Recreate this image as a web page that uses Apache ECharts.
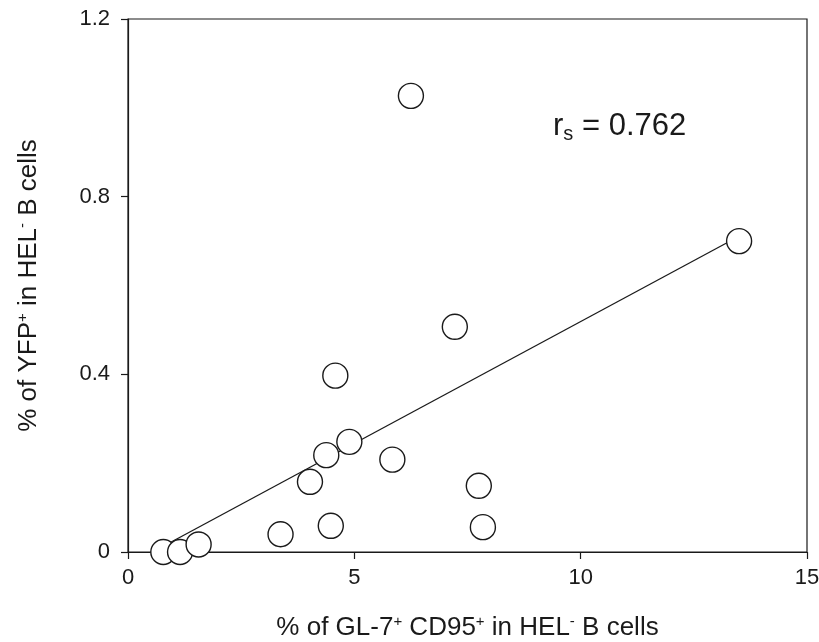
<!DOCTYPE html>
<html>
<head>
    <meta charset="utf-8">
    <title>YFP vs GL-7 CD95</title>
    <script src="https://cdn.jsdelivr.net/npm/echarts@6/dist/echarts.min.js"></script>
</head>
<body style="margin:0">
    <div id="main" style="width: 819px;height:642px;"></div>
    <script type="text/javascript">
    // % GL-7+ CD95+ (x) and % YFP+ (y)
    var gl7 = [0.78, 1.15, 1.56, 3.37, 4.48, 4.02, 4.38, 4.89, 5.84, 7.75, 7.84, 4.58, 7.22, 13.5, 6.25];
    var yfp = [0.0, 0.0, 0.017, 0.040, 0.059, 0.158, 0.218, 0.248, 0.208, 0.149, 0.056, 0.397, 0.507, 0.700, 1.027];
    // regression line end points
    var fitX = [0.78, 13.5];
    var fitY = [0.013, 0.711];
    var xTicks = [0, 5, 10, 15];
    var yTicks = [0, 0.4, 0.8, 1.2];

    var myChart = echarts.init(document.getElementById('main'));

    var points = gl7.map(function (x, i) { return [x, yfp[i]]; });
    var fit = fitX.map(function (x, i) { return [x, fitY[i]]; });

    var font = 'Liberation Sans, Arial, sans-serif';
    var ink = '#1a1a1a';
    var supStyle = { fontSize: 15, verticalAlign: 'top', padding: [0, 0, 12, 0], fontFamily: font, color: ink };

    option = {
        animation: false,
        backgroundColor: '#fff',
        title: {
            left: 548,
            top: 104,
            text: 'r{sub|s} = 0.762',
            textStyle: {
                fontSize: 31,
                fontWeight: 'normal',
                fontFamily: font,
                color: ink,
                rich: {
                    sub: { fontSize: 20, fontFamily: font, color: ink, padding: [15, 0, 0, 0] }
                }
            }
        },
        grid: {
            left: 128, right: 12, top: 19, bottom: 90,
            outerBoundsMode: 'none',
            containLabel: false,
            show: true,
            borderColor: ink,
            borderWidth: 1.2
        },
        xAxis: {
            type: 'value',
            min: xTicks[0],
            max: xTicks[xTicks.length - 1],
            interval: 5,
            splitLine: { show: false },
            axisLine: { lineStyle: { color: ink, width: 1.2 } },
            axisTick: { length: 7, lineStyle: { color: ink, width: 1.2 } },
            axisLabel: { fontSize: 22, fontFamily: font, color: ink, margin: 15 },
            name: '% of GL-7{sup|+} CD95{sup|+} in HEL{sup|-} B cells',
            nameLocation: 'middle',
            nameGap: 62,
            nameTextStyle: { fontSize: 26, fontFamily: font, color: ink, rich: { sup: supStyle } }
        },
        yAxis: {
            type: 'value',
            min: yTicks[0],
            max: yTicks[yTicks.length - 1],
            interval: 0.4,
            splitLine: { show: false },
            axisLine: { lineStyle: { color: ink, width: 1.2 } },
            axisTick: { length: 7, lineStyle: { color: ink, width: 1.2 } },
            axisLabel: { fontSize: 22, fontFamily: font, color: ink, margin: 18 },
            name: '% of YFP{sup|+} in HEL{sup|-} B cells',
            nameLocation: 'middle',
            nameGap: 86,
            nameTextStyle: { fontSize: 26, fontFamily: font, color: ink, rich: { sup: supStyle } }
        },
        series: [{
            type: 'line',
            data: fit,
            symbol: 'none',
            lineStyle: { color: ink, width: 1.3 },
            z: 1
        }, {
            type: 'scatter',
            data: points,
            symbol: 'circle',
            symbolSize: 25,
            itemStyle: { color: '#fff', borderColor: ink, borderWidth: 1.4, opacity: 1 },
            z: 2
        }]
    };

    myChart.setOption(option);
    </script>
</body>
</html>
